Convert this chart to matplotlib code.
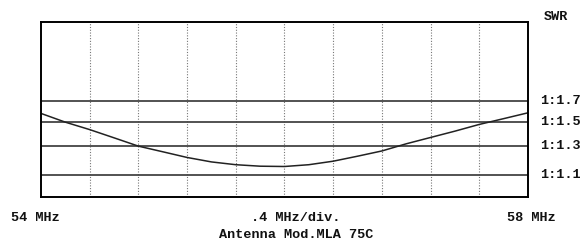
import numpy as np
import matplotlib
matplotlib.use("Agg")
import matplotlib.pyplot as plt

# sweep 54..58 MHz, 0.4 MHz/div, SWR
freq = [54.0, 54.2, 54.4, 54.6, 54.8, 55.0, 55.2, 55.4, 55.6, 55.8, 56.0,
        56.2, 56.4, 56.6, 56.8, 57.0, 57.2, 57.4, 57.6, 57.8, 58.0]
swr = [1.577, 1.496, 1.431, 1.363, 1.298, 1.256, 1.215, 1.184, 1.165, 1.155, 1.153,
       1.165, 1.189, 1.224, 1.262, 1.316, 1.366, 1.418, 1.476, 1.528, 1.583]
ref_swr = [1.1, 1.3, 1.5, 1.7]
ref_labels = ["1:1.1", "1:1.3", "1:1.5", "1:1.7"]


def fwd(s):
    # SWR -> reflection coefficient, the screen is linear in it
    s = np.asarray(s, dtype=float)
    return (s - 1) / (s + 1)


def inv(r):
    r = np.asarray(r, dtype=float)
    return (1 + r) / (1 - r)


fig = plt.figure(figsize=(5.86, 2.43), dpi=100)
ax = fig.add_axes([41/586, 46/243, 487/586, 175/243])
ax.set_yscale("function", functions=(fwd, inv))
ax.set_xlim(54, 58)
ax.set_ylim(0.967, 2.90)

for x in np.arange(54.4, 57.9, 0.4):
    ax.axvline(x, color="#777777", lw=0.8, ls=(0, (1, 1.5)))
for s in ref_swr:
    ax.axhline(s, color="#444444", lw=1.3)

ax.plot(freq, swr, color="#222222", lw=1.1)

ax.set_xticks([])
ax.set_yticks([])
ax.minorticks_off()
for sp in ax.spines.values():
    sp.set_linewidth(1.4)

font = dict(family="Liberation Mono", weight="bold", fontsize=9.7, color="#111111")
ytr = ax.get_yaxis_transform()
for s, lab in zip(ref_swr, ref_labels):
    ax.text(1.025, s, lab, transform=ytr, va="center", ha="left", **font)

fig.text(556/586, 1 - 17/243, "SWR", ha="center", va="center", **font)
fig.text(11/586, 1 - 218/243, "54 MHz", ha="left", va="center", **font)
fig.text(531/586, 1 - 218/243, "58 MHz", ha="center", va="center", **font)
fig.text(296/586, 1 - 218/243, ".4 MHz/div.", ha="center", va="center", **font)
fig.text(296/586, 1 - 235/243, "Antenna Mod.MLA 75C", ha="center", va="center", **font)

fig.savefig("out.png", dpi=100, facecolor="white")
